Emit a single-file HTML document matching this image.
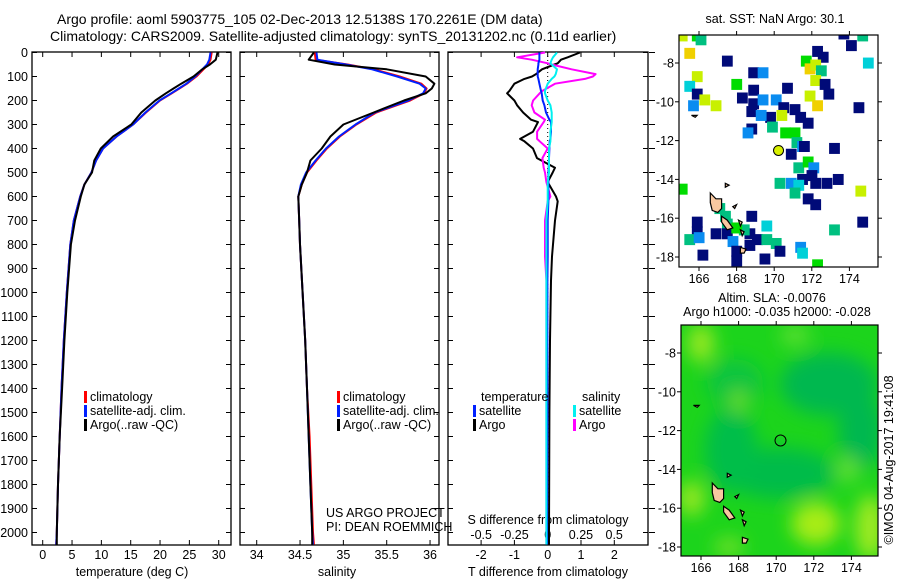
<!DOCTYPE html>
<html><head><meta charset="utf-8"><style>
body{margin:0;background:#fff;}
svg{display:block;font-family:"Liberation Sans",sans-serif;}
text{font-size:12.5px;fill:#000;}
</style></head><body>
<svg id="s" width="900" height="580" viewBox="0 0 900 580">
<defs><filter id="blur" x="-50%" y="-50%" width="200%" height="200%"><feGaussianBlur stdDeviation="9"/></filter>
<clipPath id="m2clip"><rect x="681" y="325" width="197" height="231"/></clipPath>
<clipPath id="m1clip"><rect x="679" y="35" width="199" height="232"/></clipPath></defs>
<text x="57" y="24" style="font-size:14px">Argo profile: aoml 5903775_105 02-Dec-2013 12.5138S 170.2261E (DM data)</text>
<text x="50" y="41" style="font-size:14px">Climatology: CARS2009. Satellite-adjusted climatology: synTS_20131202.nc (0.11d earlier)</text>
<g id="g"></g>
</svg>
<script>
// ---- depth grid ----
const depths=[0,30,50,70,100,130,150,170,200,250,300,350,400,450,500,550,600,700,800,1000,1200,1400,1600,1800,2000,2050];
const tClim=[28.8,28.6,28.2,27.4,26.2,24.6,23.3,22.0,20.0,17.6,15.4,12.6,10.3,9.1,8.3,7.1,6.4,5.3,4.7,4.1,3.6,3.2,2.9,2.6,2.4,2.3];
const tSat=[28.6,28.4,28.0,27.2,26.0,24.5,23.2,21.9,19.9,17.5,15.4,12.6,10.3,9.1,8.3,7.1,6.4,5.3,4.7,4.1,3.6,3.2,2.9,2.6,2.4,2.3];
const tArgo=[29.8,29.5,28.5,27.2,25.7,23.6,22.3,21.0,19.2,16.8,15.1,12.0,9.9,8.8,8.4,7.1,6.5,5.5,4.8,4.2,3.7,3.3,2.9,2.6,2.4,2.4];
const sClim=[34.67,34.68,35.05,35.35,35.65,35.9,35.96,35.93,35.77,35.38,35.15,34.96,34.81,34.69,34.58,34.52,34.48,34.49,34.5,34.53,34.56,34.58,34.61,34.63,34.65,34.66];
const sSat=[34.69,34.7,35.03,35.33,35.62,35.88,35.95,35.92,35.75,35.36,35.14,34.95,34.8,34.68,34.57,34.51,34.48,34.49,34.5,34.53,34.56,34.58,34.6,34.62,34.64,34.65];
const sArgo=[34.66,34.6,34.9,35.5,35.95,36.05,36.02,35.95,35.7,35.35,35.0,34.85,34.75,34.62,34.58,34.52,34.48,34.49,34.5,34.53,34.56,34.58,34.6,34.62,34.64,34.64];
// difference profiles
const dDepths=[0,20,30,45,50,70,90,100,110,130,160,170,200,220,250,280,290,330,360,370,400,440,480,500,540,600,620,700,850,950,1200,1500,2000,2050];
const dTArgo=[0.97,0.6,0.4,0.3,0.2,-0.17,-0.35,-0.47,-0.7,-1.0,-1.15,-1.22,-1.0,-0.92,-0.74,-0.5,-0.29,-0.44,-0.83,-0.7,-0.44,-0.32,0.22,0.15,0.0,0.25,0.3,0.22,0.13,0.1,0.07,0.05,0.04,0.04];
const dTSat=[-0.25,-0.25,-0.25,-0.28,-0.28,-0.3,-0.3,-0.3,-0.28,-0.25,-0.2,-0.18,-0.15,-0.1,-0.05,0.05,0.1,0.1,0.08,0.06,0.05,0.04,0.03,0.02,0.02,0.02,0.02,0.0,0.0,-0.01,-0.01,-0.01,-0.02,-0.02];
const dSArgo=[-0.02,-0.23,-0.12,0.0,0.03,0.18,0.36,0.34,0.28,0.055,-0.04,-0.06,-0.11,-0.12,-0.1,-0.02,-0.03,-0.08,-0.08,-0.06,0.0,-0.04,-0.03,-0.02,-0.01,0.02,0.0,-0.02,-0.02,-0.01,-0.01,-0.01,-0.01,-0.01];
const dSSat=[0.07,0.04,0.03,0.02,0.03,0.07,0.06,0.05,0.03,0.0,-0.02,-0.02,0.0,0.02,0.03,0.03,0.03,0.02,0.02,0.02,0.01,0.01,0.01,0.01,0.0,0.0,0.0,-0.01,-0.01,-0.01,-0.01,-0.01,-0.01,-0.01];
const depthTicks=[0,100,200,300,400,500,600,700,800,900,1000,1100,1200,1300,1400,1500,1600,1700,1800,1900,2000];
const tTicks=[0,5,10,15,20,25,30];
const sTicks=[34,34.5,35,35.5,36];
const dTTicks=[-2,-1,0,1,2];
const dSTicks=[-0.5,-0.25,0,0.25,0.5];
const dSTickLabels=["-0.5","-0.25","0","0.25","0.5"];
// maps
const lonTicks=[166,168,170,172,174];
const latTicks=[-8,-10,-12,-14,-16,-18];
const sstCells=[[167.5,-7.9,'N'],[168.9,-8.5,'N'],[169.4,-8.5,'B'],[173.7,-6.5,'N'],[174.1,-7.1,'N'],[174.7,-6.6,'G'],[172.3,-7.4,'N'],[172.6,-7.7,'N'],[171.7,-7.9,'L'],[171.9,-8.3,'O'],[172.2,-8.1,'Y'],[172.5,-8.4,'G'],[165.5,-7.5,'O'],[165.1,-6.6,'Y'],[165.9,-6.6,'L'],[166.1,-6.8,'G'],[165.9,-8.7,'Y'],[165.5,-9.2,'C'],[165.9,-9.6,'N'],[165.7,-10.2,'B'],[166.3,-9.9,'Y'],[166.9,-10.2,'Y'],[168.0,-9.1,'L'],[168.3,-9.8,'N'],[168.9,-9.4,'N'],[168.9,-10.1,'N'],[168.8,-10.5,'N'],[169.4,-9.9,'B'],[170.1,-9.9,'B'],[170.5,-10.3,'N'],[170.7,-9.3,'N'],[169.8,-10.8,'N'],[169.3,-10.7,'B'],[170.4,-10.7,'Y'],[168.8,-11.4,'N'],[168.6,-11.6,'B'],[169.9,-11.3,'G'],[171.1,-10.4,'N'],[171.4,-10.8,'N'],[171.8,-11.1,'N'],[171.9,-9.7,'Y'],[172.3,-10.2,'O'],[172.2,-8.9,'Y'],[172.7,-9.1,'N'],[172.9,-9.6,'N'],[174.5,-10.3,'N'],[175.0,-8.0,'C'],[170.6,-11.6,'L'],[171.1,-11.6,'L'],[171.2,-12.1,'G'],[171.5,-12.3,'B'],[170.9,-12.7,'N'],[171.6,-12.3,'N'],[173.2,-12.4,'N'],[171.3,-13.4,'G'],[171.8,-13.1,'L'],[172.1,-13.4,'B'],[172.0,-13.8,'N'],[171.5,-14.0,'N'],[172.2,-14.2,'N'],[172.8,-14.2,'N'],[173.4,-14.0,'N'],[170.3,-14.2,'G'],[170.9,-14.2,'B'],[171.3,-14.3,'C'],[171.1,-14.7,'G'],[171.8,-15.0,'N'],[172.2,-15.3,'N'],[165.1,-14.5,'L'],[174.6,-14.6,'Y'],[168.8,-15.9,'N'],[165.9,-16.2,'N'],[165.9,-16.7,'N'],[167.1,-15.5,'G'],[167.4,-15.9,'G'],[167.5,-16.3,'G'],[165.5,-17.1,'G'],[166.0,-17.0,'B'],[166.9,-16.8,'N'],[167.5,-16.8,'N'],[167.8,-17.2,'B'],[168.0,-17.7,'N'],[168.0,-18.2,'N'],[168.7,-16.8,'N'],[169.1,-17.1,'N'],[168.7,-17.4,'N'],[169.6,-17.1,'G'],[170.1,-17.3,'G'],[170.3,-17.7,'N'],[169.5,-18.1,'N'],[166.2,-17.9,'N'],[171.4,-17.5,'B'],[171.5,-17.8,'C'],[172.3,-18.4,'L'],[173.2,-16.6,'G'],[174.7,-16.2,'N'],[168.4,-16.6,'G'],[168.0,-16.5,'L'],[169.6,-16.4,'C']];
const cellColors={N:'#000a78',B:'#0a8cf0',C:'#00d0d8',G:'#00c080',L:'#00dc00',Y:'#c8f000',O:'#f0d000'};
const slaBlobs=[[172.8,-9.6,2.6,1.6,'#00b850'],[174.5,-12,1.2,2,'#00b850'],[170.2,-14.2,3,1.3,'#00bc48'],[167.6,-13.0,1.4,2.2,'#00be48'],[167.8,-9.5,1.5,1.2,'#08c440'],[172.1,-16.8,1.3,1.1,'#a8ec18'],[175.0,-17.0,0.8,1.7,'#a0ea20'],[165.5,-15.5,0.7,0.9,'#98e820'],[166.0,-7.5,0.7,1.0,'#98e820'],[168.0,-10.5,0.4,0.6,'#70e028'],[171.0,-7.1,0.8,0.5,'#60e030'],[173.8,-14,0.6,0.7,'#60e030'],[167.5,-18,0.8,0.5,'#70e028']];
const islands=[[[166.6,-14.7],[166.9,-15.0],[167.2,-15.0],[167.2,-15.5],[167.0,-15.7],[166.7,-15.6],[166.6,-15.2]],[[167.2,-15.9],[167.5,-16.1],[167.8,-16.5],[167.5,-16.6],[167.2,-16.2]],[[168.2,-17.5],[168.5,-17.6],[168.4,-17.8],[168.2,-17.8]],[[167.4,-14.2],[167.6,-14.3],[167.4,-14.4]],[[167.8,-15.4],[168.0,-15.3],[167.9,-15.5]],[[168.1,-16.1],[168.3,-16.2],[168.2,-16.4]],[[168.2,-16.6],[168.4,-16.7],[168.3,-16.9]],[[165.6,-10.7],[165.9,-10.7],[165.8,-10.8]]];
const argoLon=170.23, argoLat=-12.51;

const NS='http://www.w3.org/2000/svg';
const G=document.getElementById('g');
function el(tag,attrs,parent,txt){const e=document.createElementNS(NS,tag);for(const k in attrs)e.setAttribute(k,attrs[k]);if(txt!==undefined)e.textContent=txt;(parent||G).appendChild(e);return e;}
const yD=d=>52.5+d*0.24;
const pTop=52,bot=545;
function panel(x0,x1,name){const r=el('rect',{x:x0,y:pTop,width:x1-x0,height:bot-pTop,fill:'none',stroke:'#000','stroke-width':1.3});
 depthTicks.forEach(d=>{el('line',{x1:x0,x2:x0+5,y1:yD(d),y2:yD(d),stroke:'#000'});el('line',{x1:x1,x2:x1-5,y1:yD(d),y2:yD(d),stroke:'#000'});});}
function line(xs,ys,xf,color,name,w){const p=xs.map((v,i)=>xf(v).toFixed(1)+','+yD(ys[i]).toFixed(1)).join(' ');const e=el('polyline',{points:p,fill:'none',stroke:color,'stroke-width':w||2,'stroke-linejoin':'round'});}
// panel1
const xT=v=>42.7+v*5.867;
panel(32,231,'temperature-plot-frame');
depthTicks.forEach(d=>{const t=el('text',{x:28,y:yD(d)+4.5,'text-anchor':'end'},G,d);});
tTicks.forEach(v=>{el('line',{x1:xT(v),x2:xT(v),y1:bot,y2:bot-5,stroke:'#000'});el('line',{x1:xT(v),x2:xT(v),y1:pTop,y2:pTop+5,stroke:'#000'});const t=el('text',{x:xT(v),y:559,'text-anchor':'middle'},G,v);});
el('text',{x:132,y:576,'text-anchor':'middle',},G,'temperature (deg C)');
line(tClim,depths,xT,'#f00','temperature-climatology-line');
line(tSat,depths,xT,'#0020ff','temperature-satellite-line');
line(tArgo,depths,xT,'#000','temperature-argo-line');
// panel2
const xS=v=>256.7+(v-34)*86.67;
panel(240,439,'salinity-plot-frame');
sTicks.forEach(v=>{el('line',{x1:xS(v),x2:xS(v),y1:bot,y2:bot-5,stroke:'#000'});el('line',{x1:xS(v),x2:xS(v),y1:pTop,y2:pTop+5,stroke:'#000'});const t=el('text',{x:xS(v),y:559,'text-anchor':'middle'},G,v);});
el('text',{x:337,y:576,'text-anchor':'middle',},G,'salinity');
line(sClim,depths,xS,'#f00','salinity-climatology-line');
line(sSat,depths,xS,'#0020ff','salinity-satellite-line');
line(sArgo,depths,xS,'#000','salinity-argo-line');
// panel3
const xdT=v=>547.7+v*33.3, xdS=v=>547.7+v*133;
panel(448,648,'difference-plot-frame');
depthTicks.forEach(d=>el('line',{x1:649,x2:655,y1:yD(d),y2:yD(d),stroke:'#000'}));
el('line',{x1:547.7,x2:547.7,y1:pTop,y2:bot,stroke:'#000','stroke-dasharray':'1,3',});
dTTicks.forEach(v=>{el('line',{x1:xdT(v),x2:xdT(v),y1:bot,y2:bot-5,stroke:'#000'});el('line',{x1:xdT(v),x2:xdT(v),y1:pTop,y2:pTop+5,stroke:'#000'});const t=el('text',{x:xdT(v),y:559,'text-anchor':'middle'},G,v);});
dSTicks.forEach((v,i)=>{const t=el('text',{x:xdS(v),y:539,'text-anchor':'middle'},G,dSTickLabels[i]);});
el('text',{x:548,y:524,'text-anchor':'middle',},G,'S difference from climatology');
el('text',{x:548,y:576,'text-anchor':'middle',},G,'T difference from climatology');
line(dTArgo,dDepths,xdT,'#000','t-diff-argo-line');
line(dSArgo,dDepths,xdS,'#f0f','s-diff-argo-line');
line(dTSat,dDepths,xdT,'#0020ff','t-diff-satellite-line');
line(dSSat,dDepths,xdS,'#00f0f0','s-diff-satellite-line');
// legends
function leg(x,y,color,label,name){const g=el('g',{});el('rect',{x:x,y:y-10,width:3,height:12,fill:color},g);el('text',{x:x+6,y:y},g,label);}
leg(84,401,'#f00','climatology','legend-climatology');leg(84,415,'#0020ff','satellite-adj. clim.','legend-satellite-adj');leg(84,429,'#000','Argo(..raw -QC)','legend-argo');
leg(337,401,'#f00','climatology','legend-climatology-2');leg(337,415,'#0020ff','satellite-adj. clim.','legend-satellite-adj-2');leg(337,429,'#000','Argo(..raw -QC)','legend-argo-2');
el('text',{x:481,y:401,},G,'temperature');
el('text',{x:582,y:401,},G,'salinity');
leg(473,415,'#0020ff','satellite','legend-t-satellite');leg(473,429,'#000','Argo','legend-t-argo');
leg(573,415,'#00f0f0','satellite','legend-s-satellite');leg(573,429,'#f0f','Argo','legend-s-argo');
el('text',{x:326,y:517,},G,'US ARGO PROJECT');
el('text',{x:326,y:531,},G,'PI: DEAN ROEMMICH');
// maps
function map(x0,y0,x1,y1,latY0,name,clip){
 const lx=v=>x0+20+(v-166)*18.8, ly=v=>latY0+(-8-v)*19.4;
 const g=el('g',{'clip-path':'url(#'+clip+')',});
 return {lx,ly,g,frame:()=>{el('rect',{x:x0,y:y0,width:x1-x0,height:y1-y0,fill:'none',stroke:'#000','stroke-width':1.2,});
  lonTicks.forEach(v=>{el('line',{x1:lx(v),x2:lx(v),y1:y0,y2:y0-4,stroke:'#000'});el('line',{x1:lx(v),x2:lx(v),y1:y1,y2:y1+4,stroke:'#000'});const t=el('text',{x:lx(v),y:y1+16,'text-anchor':'middle'},G,v);});
  latTicks.forEach(v=>{el('line',{x1:x0,x2:x0-4,y1:ly(v),y2:ly(v),stroke:'#000'});el('line',{x1:x1,x2:x1+4,y1:ly(v),y2:ly(v),stroke:'#000'});const t=el('text',{x:x0-5,y:ly(v)+4.5,'text-anchor':'end'},G,v);});}};
}
function drawIslands(m){islands.forEach(poly=>{const e=el('polygon',{points:poly.map(p=>m.lx(p[0]).toFixed(1)+','+m.ly(p[1]).toFixed(1)).join(' '),fill:'#f8c8a0',stroke:'#000','stroke-width':1.2},m.g);});}
const m1=map(679,35,878,267,63,'sst-map','m1clip');
el('rect',{x:679,y:35,width:199,height:232,fill:'#fff'},m1.g);
sstCells.forEach(c=>{const e=el('rect',{x:m1.lx(c[0]-0.28),y:m1.ly(c[1]+0.28),width:10.8,height:11,fill:cellColors[c[2]]},m1.g);});
drawIslands(m1);
el('circle',{cx:m1.lx(argoLon),cy:m1.ly(argoLat),r:5,fill:'#d8f000',stroke:'#000','stroke-width':1,});
m1.frame();
el('text',{x:775,y:23,'text-anchor':'middle',},G,'sat. SST: NaN Argo: 30.1');
const m2=map(681,325,878,556,353,'sla-map','m2clip');
el('rect',{x:681,y:325,width:197,height:231,fill:'#1cd41c'},m2.g);
const bg=el('g',{filter:'url(#blur)'},m2.g);
slaBlobs.forEach(b=>{const e=el('ellipse',{cx:m2.lx(b[0]),cy:m2.ly(b[1]),rx:b[2]*18.8,ry:b[3]*19.4,fill:b[4]},bg);});
drawIslands(m2);
el('circle',{cx:m2.lx(argoLon),cy:m2.ly(argoLat),r:5.5,fill:'none',stroke:'#000','stroke-width':1,});
m2.frame();
el('text',{x:772,y:302,'text-anchor':'middle',},G,'Altim. SLA: -0.0076');
el('text',{x:777,y:316,'text-anchor':'middle',},G,'Argo h1000: -0.035 h2000: -0.028');
el('text',{x:0,y:0,transform:'translate(893,460) rotate(-90)','text-anchor':'middle',},G,'©IMOS 04-Aug-2017 19:41:08');
</script>
</body></html>
